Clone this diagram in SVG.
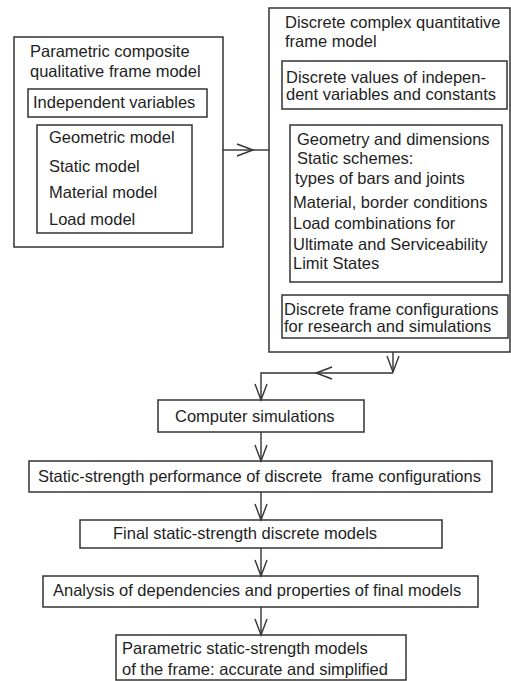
<svg xmlns="http://www.w3.org/2000/svg" width="511" height="681" viewBox="0 0 511 681">
<style>
.b{fill:#fff;stroke:#333;stroke-width:1.5}
.c{fill:none;stroke:#333;stroke-width:1.4}
text{font-family:"Liberation Sans",Arial,sans-serif;font-size:16.5px;fill:#1e1e1e}
</style>
<defs>
<marker id="a" markerUnits="userSpaceOnUse" markerWidth="20" markerHeight="16" viewBox="-18 -8 20 16" refX="0" refY="0" orient="auto">
<path d="M-16,-6 L0,0 L-16,6" fill="none" stroke="#333" stroke-width="1.4"/>
</marker>
</defs>
<rect width="511" height="681" fill="#fff"/>
<g id="n1">
<rect class="b" x="14" y="37" width="209" height="210"/>
<text x="30" y="57">Parametric composite</text>
<text x="30" y="77">qualitative frame model</text>
</g>
<g id="n1a">
<rect class="b" x="28" y="89" width="179" height="28"/>
<text x="33" y="108">Independent variables</text>
</g>
<g id="n1b">
<rect class="b" x="37" y="125" width="155" height="108"/>
<text x="49" y="143">Geometric model</text>
<text x="49" y="172">Static model</text>
<text x="49" y="198">Material model</text>
<text x="49" y="225">Load model</text>
</g>
<g id="n2">
<rect class="b" x="269" y="8" width="241" height="344"/>
<text x="285" y="28">Discrete complex quantitative</text>
<text x="285" y="47">frame model</text>
</g>
<g id="n2a">
<rect class="b" x="282" y="61" width="225" height="48"/>
<text x="286" y="83">Discrete values of indepen-</text>
<text x="286" y="100">dent variables and constants</text>
</g>
<g id="n2b">
<rect class="b" x="290" y="125" width="212" height="157"/>
<text x="297" y="145">Geometry and dimensions</text>
<text x="297" y="164">Static schemes:</text>
<text x="295" y="184">types of bars and joints</text>
<text x="293" y="208">Material, border conditions</text>
<text x="293" y="229">Load combinations for</text>
<text x="293" y="250">Ultimate and Serviceability</text>
<text x="293" y="269">Limit States</text>
</g>
<g id="n2c">
<rect class="b" x="282" y="295" width="226" height="43"/>
<text x="284" y="315">Discrete frame configurations</text>
<text x="284" y="332">for research and simulations</text>
</g>
<g id="n3">
<rect class="b" x="158" y="400" width="206" height="32"/>
<text x="175" y="422">Computer simulations</text>
</g>
<g id="n4">
<rect class="b" x="29" y="461" width="463" height="31"/>
<text x="38" y="482" xml:space="preserve" style="white-space:pre">Static-strength performance of discrete  frame configurations</text>
</g>
<g id="n5">
<rect class="b" x="80" y="520" width="362" height="28"/>
<text x="113" y="539">Final static-strength discrete models</text>
</g>
<g id="n6">
<rect class="b" x="43" y="576" width="435" height="31"/>
<text x="53" y="596">Analysis of dependencies and properties of final models</text>
</g>
<g id="n7">
<rect class="b" x="116" y="635" width="290" height="45"/>
<text x="122" y="654">Parametric static-strength models</text>
<text x="122" y="675">of the frame: accurate and simplified</text>
</g>
<g id="connectors">
<path class="c" d="M223,150 H253" marker-end="url(#a)"/>
<path class="c" d="M253,150 H269"/>
<path class="c" d="M393,352 V372" marker-end="url(#a)"/>
<path class="c" d="M393,373 H316" marker-end="url(#a)"/>
<path class="c" d="M316,373 H261 V400" marker-end="url(#a)"/>
<path class="c" d="M261,432 V461" marker-end="url(#a)"/>
<path class="c" d="M261,492 V520" marker-end="url(#a)"/>
<path class="c" d="M261,548 V576" marker-end="url(#a)"/>
<path class="c" d="M261,607 V635" marker-end="url(#a)"/>
</g>
</svg>
